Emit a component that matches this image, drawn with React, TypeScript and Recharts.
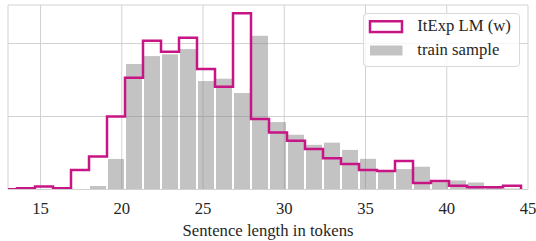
import React from 'react';
import { ComposedChart, Bar, Line, XAxis, YAxis, CartesianGrid, Legend } from 'recharts';

// Histogram bin edges (sentence length in tokens)
const BIN_EDGES = [
  12.447, 13.554, 14.662, 15.77, 16.877, 17.985, 19.093, 20.2, 21.308, 22.416,
  23.524, 24.631, 25.739, 26.847, 27.954, 29.062, 30.17, 31.277, 32.385, 33.493,
  34.601, 35.708, 36.816, 37.924, 39.031, 40.139, 41.247, 42.354, 43.462, 44.57,
];

// Density per bin: training sample (gray bars)
const TRAIN_SAMPLE = [
  0, 0, 0, 0, 0, 0.0024, 0.0209, 0.086, 0.0914, 0.0926,
  0.0962, 0.0743, 0.0759, 0.0661, 0.1053, 0.0462, 0.0375, 0.0306, 0.0321, 0.0271,
  0.021, 0.012, 0.014, 0.0156, 0.005, 0.0062, 0.0048, 0.0014, 0.0007,
];

// Density per bin: ItExp LM (w) (magenta step outline)
const ITEXP_LM_W = [
  0.0002, 0.0008, 0.002, 0.0009, 0.0134, 0.0226, 0.05, 0.0766, 0.1019, 0.0944,
  0.104, 0.0825, 0.0704, 0.1207, 0.0483, 0.039, 0.0334, 0.0277, 0.0214, 0.0175,
  0.0134, 0.0127, 0.0195, 0.0045, 0.0058, 0.0026, 0.0015, 0.0015, 0.0026,
];

const X_TICKS = [15, 20, 25, 30, 35, 40, 45];
const X_DOMAIN: [number, number] = [13, 45];
const Y_GRID = [0, 0.05, 0.1];
const Y_MAX = 0.1264;
const MODEL_NAME = 'ItExp LM (w)';
const TRAIN_NAME = 'train sample';
const X_LABEL = 'Sentence length in tokens';

const MAGENTA = '#c71585';
const GRID = '#d2d2d2';
const BAR_FILL = '#808080';
const BAR_ALPHA = 0.47;
const SERIF = "'Liberation Serif', 'Times New Roman', serif";
const FONT_SIZE = 16.7;
const TEXT = '#262626';

const barRows = TRAIN_SAMPLE.map((v, i) => ({
  x: (BIN_EDGES[i] + BIN_EDGES[i + 1]) / 2,
  train: v,
}));

const stepRows = [
  ...ITEXP_LM_W.map((v, i) => ({ x: BIN_EDGES[i], model: v })),
  { x: BIN_EDGES[BIN_EDGES.length - 1], model: 0 },
];

const BarShape = (p: any) => {
  if (!p.height || p.height <= 0 || !p.width) return <g />;
  return (
    <rect
      x={p.x + 1}
      y={p.y}
      width={Math.max(p.width - 2, 0)}
      height={p.height}
      fill={BAR_FILL}
      fillOpacity={BAR_ALPHA}
    />
  );
};

const XTick = (p: any) => (
  <text
    x={p.x}
    y={p.y}
    dy={11.9}
    textAnchor="middle"
    fontFamily={SERIF}
    fontSize={FONT_SIZE}
    fill={TEXT}
  >
    {p.payload.value}
  </text>
);

const EmptyTick = () => <g />;

const XLabel = (p: any) => {
  const vb = p.viewBox || {};
  return (
    <text
      x={vb.x + vb.width / 2}
      y={vb.y + vb.height - 5.5}
      textAnchor="middle"
      fontFamily={SERIF}
      fontSize={FONT_SIZE}
      fill={TEXT}
    >
      {X_LABEL}
    </text>
  );
};

const LegendBox = () => (
  <div
    style={{
      width: 157,
      height: 54,
      boxSizing: 'border-box',
      border: '1px solid #d9d9d9',
      borderRadius: 4,
      background: 'rgba(255,255,255,0.8)',
    }}
  >
    <svg width={155} height={52} style={{ display: 'block' }}>
      <rect x={6} y={7.25} width={32} height={10.8} fill="none" stroke={MAGENTA} strokeWidth={2.5} />
      <text x={53.3} y={17} fontFamily={SERIF} fontSize={FONT_SIZE} fill={TEXT}>
        {MODEL_NAME}
      </text>
      <rect x={6} y={31.5} width={32.5} height={10} fill={BAR_FILL} fillOpacity={BAR_ALPHA} />
      <text x={53.3} y={41} fontFamily={SERIF} fontSize={FONT_SIZE} fill={TEXT}>
        {TRAIN_NAME}
      </text>
    </svg>
  </div>
);

export default function App() {
  return (
    <div style={{ position: 'absolute', left: 0, top: 0, width: 536, height: 241, background: '#fff' }}>
      <ComposedChart
        width={536}
        height={241}
        data={barRows}
        margin={{ top: 5, right: 8, bottom: 0, left: 8 }}
        barCategoryGap={0}
        barGap={0}
      >
        <CartesianGrid stroke={GRID} strokeWidth={1} />
        <XAxis
          xAxisId={0}
          dataKey="x"
          type="number"
          domain={X_DOMAIN}
          ticks={X_TICKS}
          allowDataOverflow
          height={51.5}
          tickLine={false}
          tickSize={0}
          tickMargin={12.6}
          axisLine={{ stroke: GRID, strokeWidth: 1.2 }}
          tick={<XTick />}
          label={<XLabel />}
        />
        <XAxis xAxisId="step" dataKey="x" type="number" domain={X_DOMAIN} allowDataOverflow hide />
        <YAxis
          type="number"
          domain={[0, Y_MAX]}
          ticks={[...Y_GRID, Y_MAX]}
          allowDataOverflow
          width={0}
          tick={<EmptyTick />}
          tickLine={false}
          axisLine={{ stroke: GRID }}
        />
        <Bar
          xAxisId={0}
          dataKey="train"
          name={TRAIN_NAME}
          shape={BarShape}
          isAnimationActive={false}
        />
        <Line
          xAxisId="step"
          data={stepRows}
          dataKey="model"
          name={MODEL_NAME}
          type="stepAfter"
          stroke={MAGENTA}
          strokeWidth={2.5}
          strokeLinejoin="miter"
          strokeLinecap="butt"
          dot={false}
          activeDot={false}
          isAnimationActive={false}
        />
        <Legend
          layout="horizontal"
          verticalAlign="middle"
          align="center"
          content={() => <LegendBox />}
          wrapperStyle={{ left: 363, top: 13, width: 157, height: 54 }}
        />
      </ComposedChart>
    </div>
  );
}
